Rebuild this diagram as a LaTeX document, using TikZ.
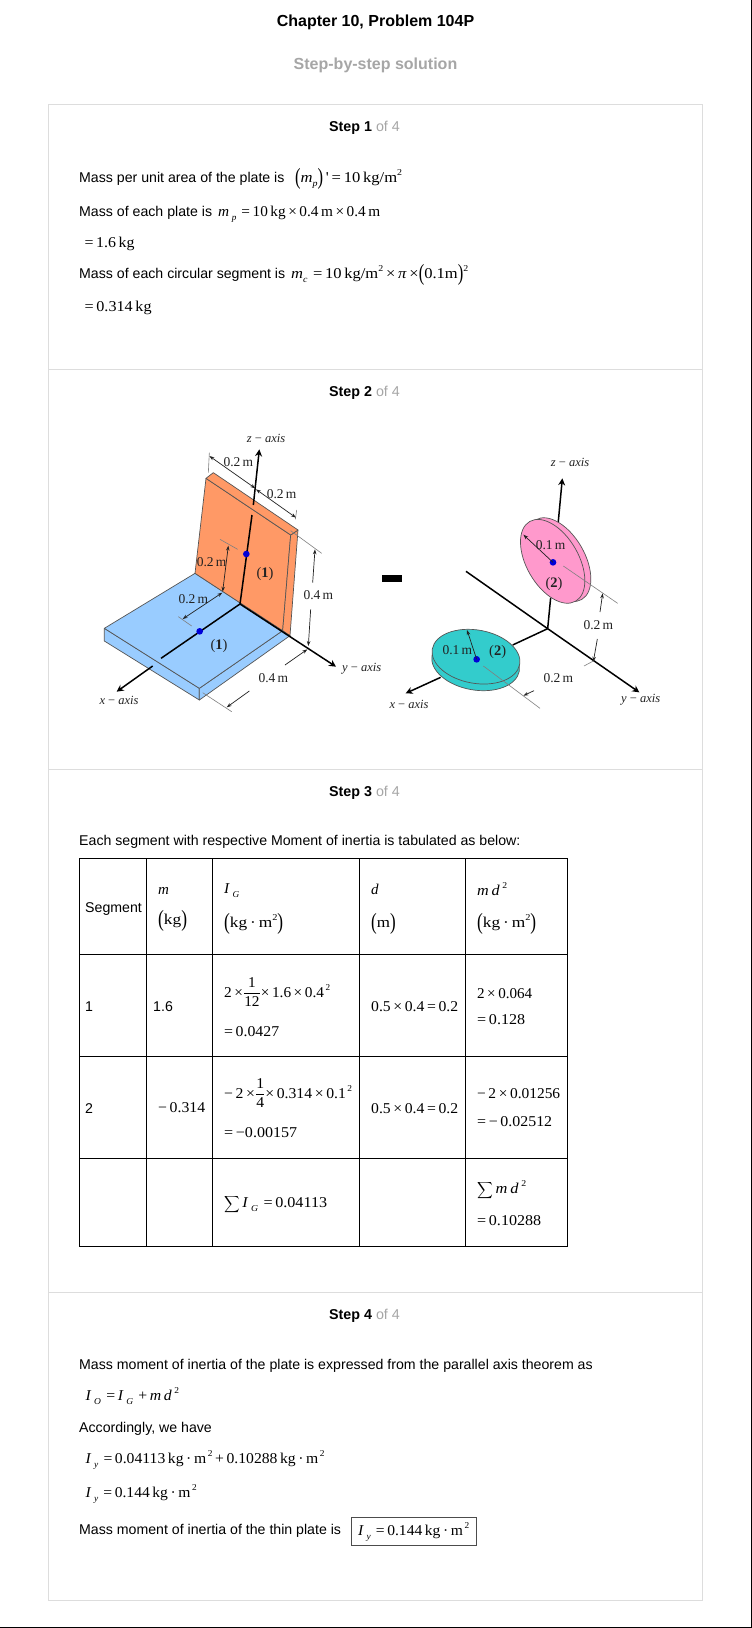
\documentclass[tikz,border=0pt]{standalone}
\usepackage{fontspec}
\usepackage{graphicx}
\usetikzlibrary{arrows.meta}
\setmainfont{Liberation Sans}
\newfontfamily\mth{Liberation Serif}
\definecolor{boxgray}{HTML}{DDDDDD}
\definecolor{softgray}{HTML}{A6A6A6}
\definecolor{plateblue}{HTML}{99CCFF}
\definecolor{plateorange}{HTML}{FF9966}
\definecolor{diskpink}{HTML}{FF99CC}
\definecolor{diskteal}{HTML}{33CCCC}
\definecolor{edgegray}{HTML}{555555}
\definecolor{figink}{HTML}{222222}
\newcommand\mw[2]{\resizebox{#1pt}{\height}{#2}}
\newcommand\vi[1]{\textit{#1}}
\newcommand\supp[1]{\raisebox{0.42em}{\fontsize{9}{9}\selectfont #1}}
\newcommand\subb[1]{\raisebox{-0.3em}{\fontsize{9}{9}\selectfont\textit{#1}}}
\newcommand\lp{\raisebox{-0.14em}{\scalebox{1}[1.55]{(}}}
\newcommand\rp{\raisebox{-0.14em}{\scalebox{1}[1.55]{)}}}
\newcommand\frc[2]{$\displaystyle\frac{\hbox{\mth #1}}{\hbox{\mth #2}}$}
\newcommand\bigsum{\raisebox{-0.1em}{\scalebox{1.0}[1.15]{$\displaystyle\sum$}}}
\newcommand\tsans[4]{\node[sanstext] (#1) at (#2,#3) {#4};}
\newcommand\tmath[4]{\node[mathtext] (#1) at (#2,#3) {#4};}
\newcommand\flab[4]{\node[figlabel] (#1) at (#2,#3) {#4};}
\newcommand\faxis[4]{\node[figlabel,axislabel] (#1) at (#2,#3) {#4};}
\newcommand\fnum[4]{\node[figlabel,numlabel] (#1) at (#2,#3) {#4};}
\tikzset{
  sanstext/.style={anchor=base west,inner sep=0pt,font=\fontsize{14.15}{16}\selectfont},
  mathtext/.style={anchor=base west,inner sep=0pt,font=\mth\fontsize{15}{18}\selectfont},
  figlabel/.style={anchor=center,inner sep=0pt,text=figink,font=\mth\fontsize{13.5}{14}\selectfont},
  axislabel/.style={font=\mth\fontsize{12.5}{14}\selectfont},
  numlabel/.style={font=\mth\fontsize{14.5}{15}\selectfont},
  heading/.style={anchor=base,inner sep=0pt,font=\bfseries\fontsize{14.3}{16}\selectfont},
  frameline/.style={draw=boxgray,line width=1pt},
  gridline/.style={draw=black,line width=1pt},
  facet/.style={draw=edgegray,line width=0.7pt,line join=round},
  axisline/.style={draw=black,line width=1.5pt},
  axisarrow/.style={draw=black,line width=1.5pt,-{Stealth[length=7pt,width=7pt]}},
  dimarrow/.style={draw=figink,line width=0.7pt,-{Stealth[length=5pt,width=3.5pt]}},
  dimboth/.style={draw=figink,line width=0.7pt,{Stealth[length=5pt,width=3.5pt]}-{Stealth[length=5pt,width=3.5pt]}},
  extline/.style={draw=gray,line width=0.6pt},
  centredot/.style={fill=blue!85!black},
}
\begin{document}
\begin{tikzpicture}[x=1pt,y=-1pt]
\useasboundingbox (0,0) rectangle (752,1628);
\fill[white] (0,0) rectangle (752,1628);
% page rules
\draw[draw=black,line width=1.2pt] (0,1627.4) -- (752,1627.4);
\draw[draw=black,line width=1.2pt] (751.4,0) -- (751.4,1628);
% frame
\draw[frameline] (48,104.5) rectangle (702.5,1600.5);
\draw[frameline] (48,369.5) -- (702.5,369.5);
\draw[frameline] (48,769.5) -- (702.5,769.5);
\draw[frameline] (48,1292.5) -- (702.5,1292.5);
% headings
\node[heading,font=\bfseries\fontsize{16}{18}\selectfont] (title) at (375.5,26.5) {Chapter 10, Problem 104P};
\node[heading,text=softgray,font=\bfseries\fontsize{16}{18}\selectfont] (sub) at (375.5,69) {Step-by-step solution};
\node[heading] (s1) at (364.5,131.5) {Step 1 {\color{softgray}\mdseries of 4}};
\node[heading] (s2) at (364.5,396) {Step 2 {\color{softgray}\mdseries of 4}};
\node[heading] (s3) at (364.5,796) {Step 3 {\color{softgray}\mdseries of 4}};
\node[heading] (s4) at (364.5,1319) {Step 4 {\color{softgray}\mdseries of 4}};
% step 1
\tsans{a1}{79}{182}{Mass per unit area of the plate is}
\tmath{a2}{295}{182}{\mw{107}{\lp\vi{m}\subb{p}\rp\,'\,=\,10\,kg/m\supp{2}}}
\tsans{a3}{79}{216}{Mass of each plate is}
\tmath{a4}{218}{216}{\mw{162}{\vi{m}\,\subb{p}\,\,=\,10\,kg\,×\,0.4\,m\,×\,0.4\,m}}
\tmath{a5}{84.4}{247}{\mw{50}{=\,1.6\,kg}}
\tsans{a6}{79}{278}{Mass of each circular segment is}
\tmath{a7}{291}{278}{\mw{177}{\vi{m}\subb{c}\,\,=\,10\,kg/m\supp{2}\,×\,\vi{π}\,×\lp0.1m\rp\supp{2}}}
\tmath{a8}{84.4}{311}{\mw{67}{=\,0.314\,kg}}
% step 3
\tsans{c1}{79}{845}{Each segment with respective Moment of inertia is tabulated as below:}
\draw[gridline] (79.5,858.5) rectangle (567.5,1246.5);
\foreach \xx in {146.5,212.5,359.5,465.5} \draw[gridline] (\xx,858.5) -- (\xx,1246.5);
\foreach \yy in {954.5,1056.5,1158.5} \draw[gridline] (79.5,\yy) -- (567.5,\yy);
\tsans{h1}{85}{912}{Segment}
\tmath{h2}{158}{894}{\vi{m}}
\tmath{h3}{158}{924}{\mw{29}{\lp kg\rp}}
\tmath{h4}{224}{893}{\mw{15}{\vi{I}\,\subb{G}}}
\tmath{h5}{224}{927}{\mw{59}{\lp kg\,·\,m\supp{2}\rp}}
\tmath{h6}{371}{894}{\vi{d}}
\tmath{h7}{371}{927}{\mw{24.5}{\lp m\rp}}
\tmath{h8}{477}{895}{\mw{30}{\vi{m}\,\vi{d}\,\supp{2}}}
\tmath{h9}{477}{927}{\mw{59}{\lp kg\,·\,m\supp{2}\rp}}
\tsans{r1a}{85}{1011}{1}
\tsans{r1b}{153}{1011}{1.6}
\tmath{r1c}{224}{997}{\mw{106}{2\,×\frc{1}{12}×\,1.6\,×\,0.4\supp{\,2}}}
\tmath{r1d}{224}{1036}{\mw{55}{=\,0.0427}}
\tmath{r1e}{371}{1011}{\mw{87}{0.5\,×\,0.4\,=\,0.2}}
\tmath{r1f}{477}{998}{\mw{55}{2\,×\,0.064}}
\tmath{r1g}{477}{1024}{\mw{48}{=\,0.128}}
\tsans{r2a}{85}{1113}{2}
\tmath{r2b}{158}{1112}{\mw{47}{−\,0.314}}
\tmath{r2c}{224}{1098}{\mw{128}{−\,2\,×\frc{1}{4}×\,0.314\,×\,0.1\supp{\,2}}}
\tmath{r2d}{224}{1137}{\mw{73}{=\,−0.00157}}
\tmath{r2e}{371}{1113}{\mw{87}{0.5\,×\,0.4\,=\,0.2}}
\tmath{r2f}{477}{1098}{\mw{83}{−\,2\,×\,0.01256}}
\tmath{r2g}{477}{1126}{\mw{75}{=\,−\,0.02512}}
\tmath{r3a}{224}{1207}{\mw{103}{\bigsum\,\vi{I}\,\subb{G}\,\,=\,0.04113}}
\tmath{r3b}{477}{1193}{\mw{49}{\bigsum\,\vi{m}\,\vi{d}\,\supp{2}}}
\tmath{r3c}{477}{1225}{\mw{64}{=\,0.10288}}
% step 4
\tsans{d1}{79}{1369}{Mass moment of inertia of the plate is expressed from the parallel axis theorem as}
\tmath{d2}{85.5}{1400}{\mw{93.5}{\vi{I}\,\subb{O}\,\,=\,\vi{I}\,\subb{G}\,\,+\,\vi{m}\,\vi{d}\,\supp{2}}}
\tsans{d3}{79}{1432}{Accordingly, we have}
\tmath{d4}{85.5}{1463}{\mw{239}{\vi{I}\,\subb{y}\,\,=\,0.04113\,kg\,·\,m\supp{\,2}\,+\,0.10288\,kg\,·\,m\supp{\,2}}}
\tmath{d5}{85.5}{1497}{\mw{111}{\vi{I}\,\subb{y}\,\,=\,0.144\,kg\,·\,m\supp{\,2}}}
\tsans{d6}{79}{1534}{Mass moment of inertia of the thin plate is}
\draw[draw=black!70,line width=1pt] (351.5,1517) rectangle (476,1545);
\tmath{d7}{358}{1535}{\mw{111}{\vi{I}\,\subb{y}\,\,=\,0.144\,kg\,·\,m\supp{\,2}}}
% figure 1
\begin{scope}[shift={(60,410)},x=0.33333pt,y=-0.33333pt]
  \path[facet,fill=plateblue] (133,655) -- (133,693) -- (418,870) -- (418,835) -- cycle;
  \path[facet,fill=plateblue] (418,835) -- (418,870) -- (690,677) -- (668,662) -- cycle;
  \path[facet,fill=plateblue] (405,490) -- (133,655) -- (418,835) -- (668,662) -- cycle;
  \path[facet,fill=plateorange] (405,490) -- (438,205) -- (692,375) -- (668,662) -- cycle;
  \path[facet,fill=plateorange] (692,375) -- (714,360) -- (690,677) -- (668,662) -- cycle;
  \path[facet,fill=plateorange] (438,205) -- (460,188) -- (714,360) -- (692,375) -- cycle;
  % axes
  \draw[axisline] (540,582) -- (576,315);
  \draw[axisarrow] (580,285) -- (598,118);
  \draw[axisarrow] (540,582) -- (828,770);
  \draw[axisline] (540,582) -- (303,745);
  \draw[axisarrow] (278,768) -- (170,845);
  \fill[centredot] (559,432) circle[radius=10];
  \fill[centredot] (419,664) circle[radius=10];
  % dimensions
  \draw[extline] (448,128) -- (445,188);
  \draw[extline] (710,300) -- (706,328);
  \draw[extline] (692,362) -- (785,430);
  \draw[extline] (480,388) -- (533,418);
  \draw[extline] (355,620) -- (395,648);
  \draw[extline] (428,848) -- (515,905);
  \draw[dimboth] (448,138) -- (586,235);
  \draw[dimboth] (588,238) -- (708,323);
  \draw[dimboth] (505,407) -- (488,545);
  \draw[dimboth] (487,548) -- (368,627);
  \draw[dimarrow] (758,518) -- (765,418);
  \draw[dimarrow] (752,598) -- (745,708);
  \draw[dimarrow] (675,765) -- (742,718);
  \draw[dimarrow] (568,843) -- (500,892);
  \flab{f1}{535}{156}{0.2\,m}
  \flab{f2}{665}{251}{0.2\,m}
  \flab{f3}{455}{456}{0.2\,m}
  \flab{f4}{400}{566}{0.2\,m}
  \flab{f5}{775}{556}{0.4\,m}
  \flab{f6}{640}{804}{0.4\,m}
  \fnum{f7}{615}{492}{(\textbf{1})}
  \fnum{f8}{477}{707}{(\textbf{1})}
  \faxis{f9}{618}{85}{\textit{z} − \textit{axis}}
  \faxis{f10}{905}{775}{\textit{y} − \textit{axis}}
  \faxis{f11}{177}{870}{\textit{x} − \textit{axis}}
\end{scope}
% minus bar
\fill[black] (382,575) rectangle (402,582);
% figure 2
\begin{scope}[shift={(370,430)},x=0.33333pt,y=-0.33333pt]
  \draw[axisline] (533,596) -- (288,424);
  \draw[axisarrow] (533,596) -- (808,787);
  \draw[axisline] (533,596) -- (542,503);
  \draw[axisarrow] (563,295) -- (577,145);
  \draw[axisline] (533,596) -- (428,645);
  \draw[axisarrow] (212,742) -- (107,790);
  % pink disk
  \path[facet,fill=diskpink] (566,389) ellipse[x radius=138,y radius=78,rotate=-60];
  \path[facet,fill=diskpink] (548,394) ellipse[x radius=138,y radius=78,rotate=-60];
  % teal disk
  \path[facet,fill=diskteal] (317,700) ellipse[x radius=133,y radius=80,rotate=-10];
  \path[facet,fill=diskteal] (318,680) ellipse[x radius=133,y radius=80,rotate=-10];
  \fill[centredot] (549,397) circle[radius=10];
  \fill[centredot] (320,688) circle[radius=10];
  \draw[extline] (580,408) -- (743,520);
  \draw[extline] (340,708) -- (510,835);
  \draw[extline] (642,708) -- (672,692);
  \draw[dimarrow] (549,397) -- (460,314);
  \draw[dimarrow] (320,688) -- (291,600);
  \draw[dimarrow] (690,546) -- (698,490);
  \draw[dimarrow] (682,627) -- (670,695);
  \draw[dimarrow] (492,782) -- (460,797);
  \flab{g1}{542}{346}{0.1\,m}
  \flab{g2}{262}{659}{0.1\,m}
  \flab{g3}{685}{586}{0.2\,m}
  \flab{g4}{565}{744}{0.2\,m}
  \fnum{g5}{552}{461}{(\textbf{2})}
  \fnum{g6}{383}{667}{(\textbf{2})}
  \faxis{g7}{600}{97}{\textit{z} − \textit{axis}}
  \faxis{g8}{812}{810}{\textit{y} − \textit{axis}}
  \faxis{g9}{117}{824}{\textit{x} − \textit{axis}}
\end{scope}
\end{tikzpicture}
\end{document}
